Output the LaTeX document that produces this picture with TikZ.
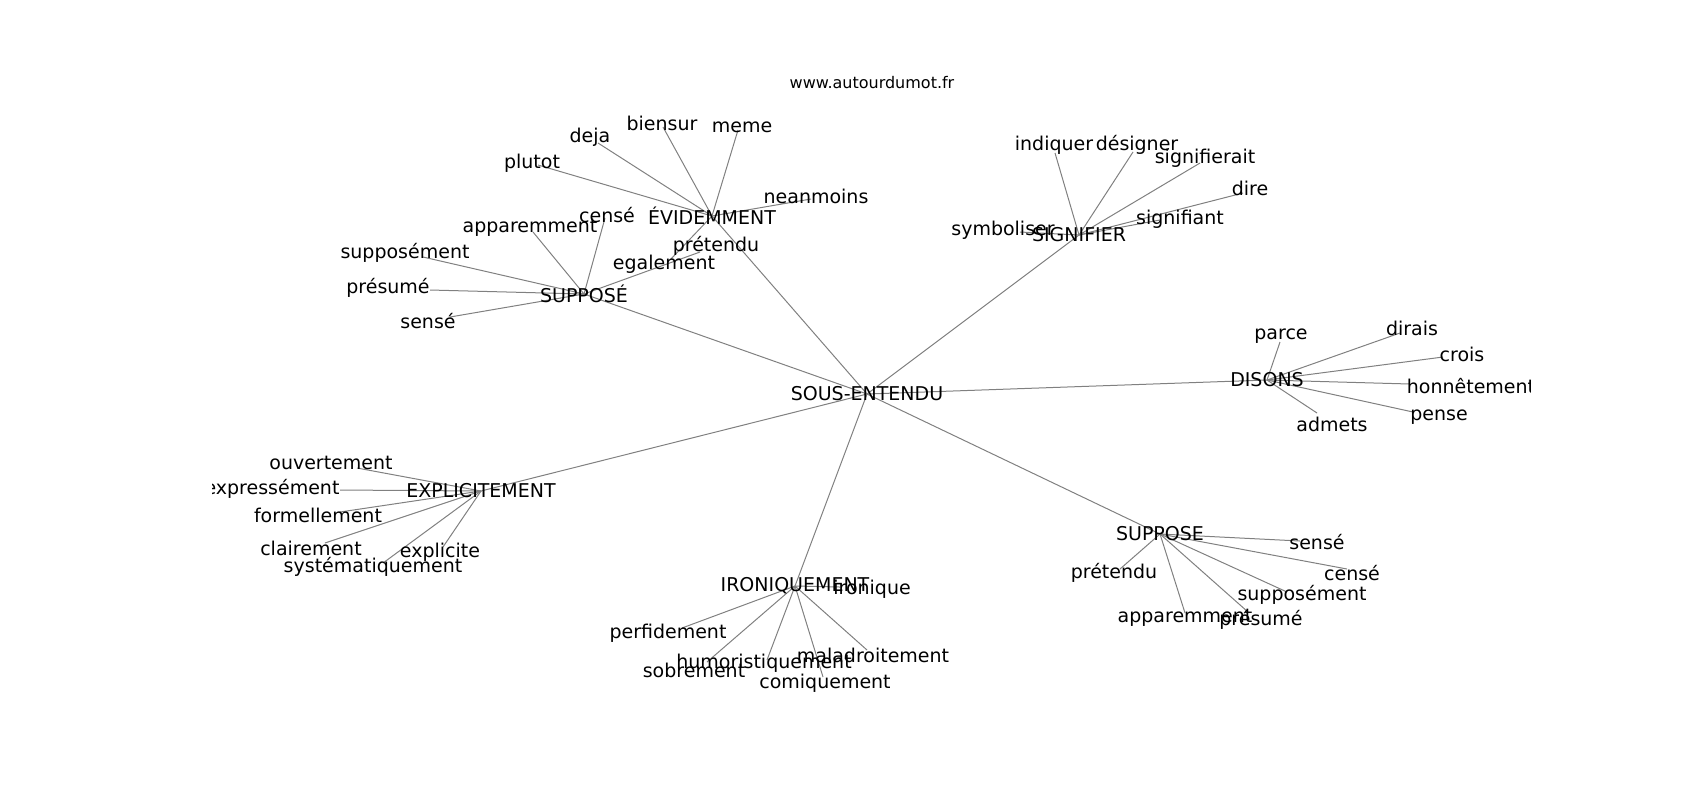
\documentclass[tikz,border=0pt]{standalone}
\usepackage{fontspec}
\setmainfont{DejaVu Sans}
\usetikzlibrary{backgrounds}

\begin{document}
\begin{tikzpicture}[x=0.5pt, y=-0.5pt,
  word/.style={inner sep=0, font=\fontsize{9.5}{11}\selectfont},
  link/.style={draw=gray, line width=0.5pt}]
\useasboundingbox (0,0) rectangle (1700,800);
\node[inner sep=0, font=\fontsize{8}{10}\selectfont] (site) at (872,83) {www.autourdumot.fr};
\begin{scope}
\clip (212.5,96) rectangle (1530,712);
% hubs
\node[word] (SE) at (867,394) {SOUS-ENTENDU};
\node[word] (EV) at (712,216) {ÉVIDEMMENT};
\node[word] (SP) at (584,294) {SUPPOSÉ};
\node[word] (SG) at (1079,235) {SIGNIFIER};
\node[word] (DI) at (1267,380) {DISONS};
\node[word] (EX) at (481,491) {EXPLICITEMENT};
\node[word] (IR) at (795,586) {IRONIQUEMENT};
\node[word] (SU) at (1160,534) {SUPPOSE};
\begin{scope}[on background layer]
\foreach \h in {EV,SP,SG,DI,EX,IR,SU}
  \draw[link] (SE.center) -- (\h.center);
\end{scope}
% leaves: hub/name/end x/end y/label x/label y/text
\foreach \h/\n/\ex/\ey/\lx/\ly/\t in {
  EV/ev-plutot/538/165/532/163/plutot,
  EV/ev-deja/598/143/590/137/deja,
  EV/ev-biensur/663/127/662/123/biensur,
  EV/ev-meme/738/130/742/127/meme,
  EV/ev-neanmoins/811/199/816/196/neanmoins,
  EV/ev-egalement/670/260/664/264/egalement,
  SP/sp-cense/605/218/607/215/censé,
  SP/sp-apparemment/533/232/530/228/apparemment,
  SP/sp-supposement/423/257/405/253/supposément,
  SP/sp-presume/430/290/388/288/présumé,
  SP/sp-sense/450/317/428/321/sensé,
  SP/sp-pretendu/700/252/716/246/prétendu,
  SG/sg-indiquer/1055/153/1054/145/indiquer,
  SG/sg-designer/1133/152/1137/145/désigner,
  SG/sg-signifierait/1200/163/1205/158/signifierait,
  SG/sg-dire/1243/193/1250/188/dire,
  SG/sg-signifiant/1160/220/1180/219/signifiant,
  SG/sg-symboliser/1020/232/1003/230/symboliser,
  DI/di-parce/1280/342/1281/336/parce,
  DI/di-dirais/1400/333/1412/328/dirais,
  DI/di-crois/1443/357/1462/354/crois,
  DI/di-honnetement/1410/384/1471/386/honnêtement,
  DI/di-pense/1413/412/1439/417/pense,
  DI/di-admets/1317/413/1332/424/admets,
  EX/ex-ouvertement/357/468/331/463/ouvertement,
  EX/ex-expressement/340/490/272/489/expressément,
  EX/ex-formellement/340/512/318/515/formellement,
  EX/ex-clairement/325/543/311/548/clairement,
  EX/ex-systematiquement/383/563/373/567/systématiquement,
  EX/ex-explicite/443/547/440/552/explicite,
  IR/ir-ironique/840/587/872/589/ironique,
  IR/ir-perfidement/682/628/668/633/perfidement,
  IR/ir-sobrement/707/662/694/670/sobrement,
  IR/ir-humoristiquement/767/660/764/663/humoristiquement,
  IR/ir-maladroitement/867/650/873/655/maladroitement,
  IR/ir-comiquement/823/677/825/683/comiquement,
  SU/su-sense/1300/541/1317/542/sensé,
  SU/su-cense/1347/569/1352/573/censé,
  SU/su-pretendu/1120/569/1114/573/prétendu,
  SU/su-supposement/1287/592/1302/595/supposément,
  SU/su-apparemment/1185/613/1185/618/apparemment,
  SU/su-presume/1248/612/1261/620/présumé} {
  \coordinate (\n) at (\ex,\ey);
  \node[word] (\n-l) at (\lx,\ly) {\t};
  \begin{scope}[on background layer]
    \draw[link] (\h.center) -- (\n);
  \end{scope}
}
\end{scope}
\end{tikzpicture}
\end{document}
